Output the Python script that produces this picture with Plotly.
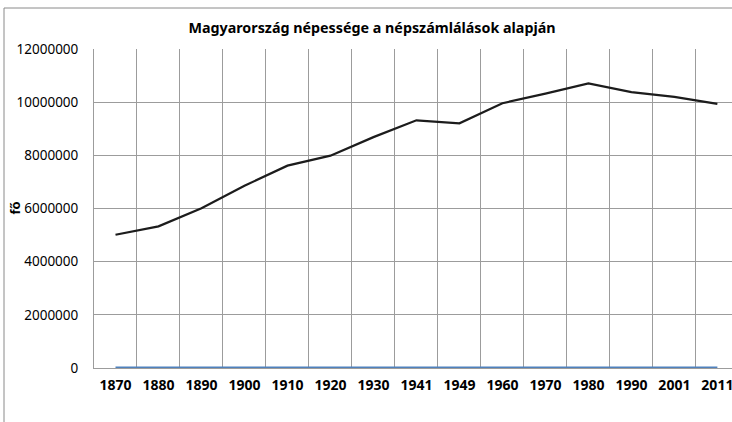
import plotly.graph_objects as go

# census years (category axis) and population in persons
years = ["1870", "1880", "1890", "1900", "1910", "1920", "1930", "1941",
         "1949", "1960", "1970", "1980", "1990", "2001", "2011"]
population = [5011310, 5329191, 6009351, 6854415, 7612114, 7986875, 8685109,
              9316074, 9204799, 9961044, 10322099, 10709463, 10374823,
              10198315, 9937628]
# second series in the sheet: the years themselves, flat at the bottom
year_values = [1870, 1880, 1890, 1900, 1910, 1920, 1930, 1941,
               1949, 1960, 1970, 1980, 1990, 2001, 2011]

title_text = "Magyarország népessége a népszámlálások alapján"
y_title = "fő"

GRID = "#9c9c9c"
FONT = "Noto Sans, DejaVu Sans, sans-serif"
PLOT_L, PLOT_W = 94, 638  # plot area in px

fig = go.Figure()
fig.add_trace(go.Scatter(
    x=years, y=population, mode="lines", name="népesség",
    line={"color": "#1c1c1c", "width": 2.2},
))
fig.add_trace(go.Scatter(
    x=years, y=year_values, mode="lines", name="év",
    line={"color": "#4F81BD", "width": 3},
))

fig.update_layout(
    width=732, height=422,
    paper_bgcolor="white", plot_bgcolor="white",
    margin={"l": PLOT_L, "r": 0, "t": 49, "b": 54, "autoexpand": False},
    showlegend=False,
    font={"family": FONT, "color": "#000000", "size": 13},
    title={"text": f"<b>{title_text}</b>", "xref": "container", "yref": "container",
           "x": 372 / 732, "xanchor": "center", "y": 1 - 28 / 422, "yanchor": "middle",
           "font": {"size": 14.3, "family": FONT, "color": "#000000"}},
    xaxis={"type": "category", "range": [-0.5, 14.34], "tickson": "boundaries",
           "automargin": False, "layer": "below traces",
           "showgrid": True, "gridcolor": GRID, "gridwidth": 1,
           "ticks": "", "showline": True, "linecolor": GRID,
           "tickfont": {"size": 14, "family": FONT, "weight": "bold"},
           "ticklabelstandoff": 4},
    yaxis={"range": [0, 12000000], "dtick": 2000000, "tickformat": "d",
           "automargin": False, "layer": "below traces",
           "showgrid": True, "gridcolor": GRID, "gridwidth": 1,
           "zeroline": False, "showline": True, "linecolor": GRID,
           "ticks": "", "tickfont": {"size": 13.5, "family": FONT},
           "ticklabelstandoff": 12},
    annotations=[{"text": f"<b>{y_title}</b>", "textangle": -90, "showarrow": False,
                  "xref": "paper", "yref": "paper",
                  "x": (14 - PLOT_L) / PLOT_W, "y": 0.5,
                  "xanchor": "center", "yanchor": "middle",
                  "font": {"size": 13, "family": FONT}}],
    shapes=[{"type": "rect", "xref": "paper", "yref": "paper",
             "x0": (4 - PLOT_L) / PLOT_W, "x1": 1.05, "y0": -0.3, "y1": 1 + (49 - 8) / 319,
             "line": {"color": "#8a8a8a", "width": 1}, "layer": "below"}],
)

# drop the page's default body margin so the figure sits at the window's corner
fig.write_html("out.html", config={"displayModeBar": False},
               post_script="document.body.style.margin='0';")
